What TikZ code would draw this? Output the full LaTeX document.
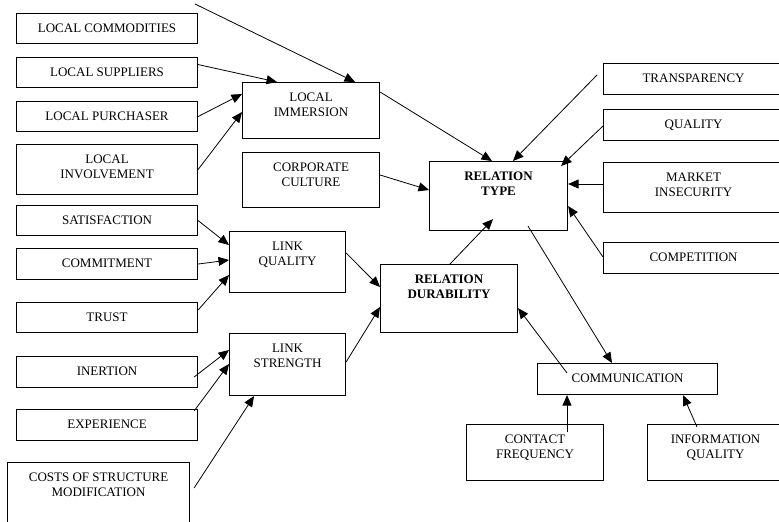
\documentclass[tikz,border=0pt]{standalone}
\usepackage{fontspec}
\setmainfont{Liberation Serif}
\usepackage{tikz}
\usetikzlibrary{arrows.meta}
\usetikzlibrary{positioning}
\tikzstyle{blk}=[draw,line width=1.1pt,inner sep=0pt,anchor=north west,
                font=\fontsize{13}{15}\selectfont]
\tikzstyle{lnk}=[->,>={Triangle[length=10.5pt,width=9pt]},line width=0.8pt]
\newcommand{\boxtext}[3]{\parbox[c][#2pt][t]{#1pt}{\centering\rule{0pt}{19pt}#3}}

\begin{document}
\begin{tikzpicture}[x=1pt,y=-1pt]
\useasboundingbox (0,0) rectangle (779,522);
% left column
\node[blk] (com) at (16,13)  {\boxtext{181}{30}{LOCAL COMMODITIES}};
\node[blk] (sup) at (16,57)  {\boxtext{181}{30}{LOCAL SUPPLIERS}};
\node[blk] (pur) at (16,101) {\boxtext{181}{30}{LOCAL PURCHASER}};
\node[blk] (inv) at (16,144) {\boxtext{181}{50}{LOCAL\\INVOLVEMENT}};
\node[blk] (sat) at (16,205) {\boxtext{181}{30}{SATISFACTION}};
\node[blk] (cmt) at (16,248) {\boxtext{181}{31}{COMMITMENT}};
\node[blk] (tru) at (16,302) {\boxtext{181}{30}{TRUST}};
\node[blk] (ine) at (16,356) {\boxtext{181}{31}{INERTION}};
\node[blk] (exp) at (16,409) {\boxtext{181}{31}{EXPERIENCE}};
\node[blk] (cst) at (7,462)  {\boxtext{182}{80}{COSTS OF STRUCTURE\\MODIFICATION}};
% middle
\node[blk] (imm) at (242,82)  {\boxtext{137}{56}{LOCAL\\IMMERSION}};
\node[blk] (cul) at (242,152) {\boxtext{137}{55}{CORPORATE\\CULTURE}};
\node[blk] (lq)  at (229,231) {\boxtext{116}{61}{LINK\\QUALITY}};
\node[blk] (ls)  at (229,333) {\boxtext{116}{62}{LINK\\STRENGTH}};
\node[blk] (dur) at (380,264) {\boxtext{137}{68}{\textbf{RELATION}\\\textbf{DURABILITY}}};
\node[blk] (typ) at (429,161) {\boxtext{138}{69}{\textbf{RELATION}\\\textbf{TYPE}}};
% right column
\node[blk] (tra) at (603,63)  {\boxtext{180}{31}{TRANSPARENCY}};
\node[blk] (qua) at (603,109) {\boxtext{180}{31}{QUALITY}};
\node[blk] (mkt) at (603,162) {\boxtext{180}{50}{MARKET\\INSECURITY}};
\node[blk] (cmp) at (603,242) {\boxtext{180}{31}{COMPETITION}};
% communication
\node[blk] (cmm) at (537,363) {\boxtext{180}{31}{COMMUNICATION}};
\node[blk] (cfr) at (466,424) {\boxtext{137}{56}{CONTACT\\FREQUENCY}};
\node[blk] (inf) at (647,424) {\boxtext{136}{56}{INFORMATION\\QUALITY}};
\coordinate (src) at (195,4);

% into local immersion
\draw[lnk] (src) -- ([xshift=113pt]imm.north west);
\draw[lnk] ([yshift=8pt]sup.east) -- ([xshift=35pt]imm.north west);
\draw[lnk] (pur.east) -- ([yshift=-12pt]imm.north west);
\draw[lnk] (inv.east) -- ([yshift=-30pt]imm.north west);
% into relation type
\draw[lnk] ([yshift=-10pt]imm.north east) -- ([xshift=63pt]typ.north west);
\draw[lnk] ([yshift=-23pt]cul.north east) -- ([yshift=-29pt]typ.north west);
\draw[lnk] ([shift={(-6pt,-12pt)}]tra.north west) -- ([xshift=84pt]typ.north west);
\draw[lnk] ([yshift=-17pt]qua.north west) -- ([shift={(-7pt,-5pt)}]typ.north east);
\draw[lnk] ([yshift=-22pt]mkt.north west) -- ([yshift=-23pt]typ.north east);
\draw[lnk] ([yshift=-15pt]cmp.north west) -- ([yshift=-45pt]typ.north east);
\draw[lnk] ([xshift=70pt]dur.north west) -- ([shift={(64pt,12pt)}]typ.south west);
% communication
\draw[lnk] ([shift={(99pt,5pt)}]typ.south west) -- ([xshift=75pt]cmm.north west);
\draw[lnk] ([shift={(30pt,-10pt)}]cmm.north west) -- ([yshift=25pt]dur.south east);
\draw[lnk] ([shift={(101pt,-8pt)}]cfr.north west) -- ([xshift=30pt]cmm.south west);
\draw[lnk] ([shift={(50pt,-3pt)}]inf.north west) -- ([xshift=146pt]cmm.south west);
% into relation durability
\draw[lnk] ([yshift=-22pt]lq.north east) -- ([yshift=-23pt]dur.north west);
\draw[lnk] ([yshift=-29pt]ls.north east) -- ([yshift=-43pt]dur.north west);
% link quality
\draw[lnk] (sat.east) -- ([yshift=-14pt]lq.north west);
\draw[lnk] (cmt.east) -- ([yshift=-29pt]lq.north west);
\draw[lnk] ([yshift=-8pt]tru.north east) -- ([yshift=-44pt]lq.north west);
% link strength
\draw[lnk] ([shift={(-4pt,-21pt)}]ine.north east) -- ([yshift=-17pt]ls.north west);
\draw[lnk] ([shift={(-4pt,-2pt)}]exp.north east) -- ([yshift=-31pt]ls.north west);
\draw[lnk] ([shift={(4pt,-26pt)}]cst.north east) -- ([xshift=25pt]ls.south west);
\end{tikzpicture}
\end{document}
